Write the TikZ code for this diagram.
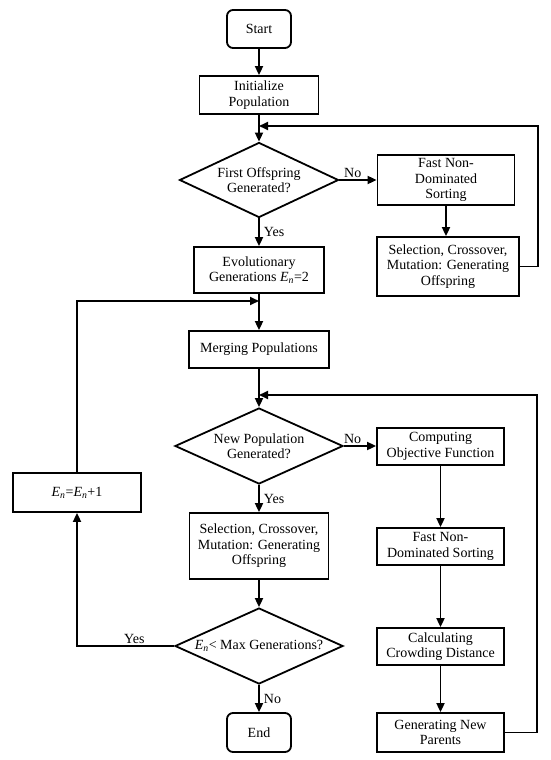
\documentclass[tikz,border=0pt]{standalone}
\usepackage{fontspec}
\setmainfont{Liberation Serif}
\usetikzlibrary{shapes.geometric,arrows.meta,calc}
\newcommand{\En}{\textit{E}\textsubscript{\textit{n}}}
\tikzset{
  every node/.style={font=\fontsize{14}{15.5}\selectfont},
  box/.style={draw, line width=1.8pt, inner sep=0pt, align=center},
  term/.style={box, rounded corners=6pt},
  dec/.style={draw, line width=1.8pt, diamond, inner sep=0pt, aspect=2, align=center},
  arr/.style={line width=1.8pt, -{Triangle[length=9pt,width=8pt]}},
  lbl/.style={inner sep=1pt}
}
\begin{document}
\begin{tikzpicture}[x=1pt,y=-1pt]
\useasboundingbox (0,0) rectangle (550,760);
% nodes
\node[term, minimum width=64pt, minimum height=38pt] (start) at (259,29) {Start};
\node[box, minimum width=119pt, minimum height=38pt] (init) at (259,95) {Initialize\\Population};
\node[dec, minimum width=159pt, minimum height=75pt] (d1) at (259,180) {First Offspring\\Generated?};
\node[box, minimum width=137pt, minimum height=50pt] (fns1) at (446,180) {Fast Non-\\Dominated\\Sorting};
\node[box, minimum width=142pt, minimum height=59pt] (sel1) at (448,266.5) {Selection, Crossover,\\Mutation: Generating\\Offspring};
\node[box, minimum width=130pt, minimum height=46pt] (evo) at (259,270) {Evolutionary\\Generations \En=2};
\node[box, minimum width=140pt, minimum height=37pt] (merge) at (259,349.5) {Merging Populations};
\node[dec, minimum width=168pt, minimum height=76pt] (d2) at (259,446) {New Population\\Generated?};
\node[box, minimum width=127pt, minimum height=37pt] (comp) at (440.5,446.5) {Computing\\Objective Function};
\node[box, minimum width=127pt, minimum height=37pt] (fns2) at (440.5,546.5) {Fast Non-\\Dominated Sorting};
\node[box, minimum width=127pt, minimum height=37pt] (calc) at (440.5,646.5) {Calculating\\Crowding Distance};
\node[box, minimum width=127pt, minimum height=39pt] (gnp) at (440.5,732.5) {Generating New\\Parents};
\node[box, minimum width=139pt, minimum height=66pt] (sel2) at (259,546) {Selection, Crossover,\\Mutation: Generating\\Offspring};
\node[dec, minimum width=168pt, minimum height=76pt] (d3) at (259,646) {\En{}< Max Generations?};
\node[box, minimum width=128pt, minimum height=39pt] (en) at (77,492.5) {\En=\En+1};
\node[term, minimum width=64pt, minimum height=39pt] (end) at (259,732.5) {End};
% junction coordinates
\coordinate (j1) at (259,126);
\coordinate (j2) at (259,301);
\coordinate (j3) at (259,395);
\coordinate (r1) at (538,126);
\coordinate (r2) at (537,395);
\coordinate (l1) at (77,301);
\coordinate (l2) at (77,646);
% connectors
\draw[arr] (start) -- (init);
\draw[arr] (init) -- (d1);
\draw[arr] (d1.east) -- node[lbl, above, pos=0.36] {No} (fns1.west |- d1.east);
\draw[arr] (fns1.south) -- (fns1.south |- sel1.north);
\draw[arr] (sel1.east) -- (sel1.east -| r1) -- (r1) -- (j1);
\draw[arr] (d1.south) -- node[lbl, right, xshift=3pt] {Yes} (evo.north);
\draw[arr] (evo) -- (merge);
\draw[arr] (en.north) -- (l1) -- (j2);
\draw[arr] (merge) -- (d2);
\draw[arr] (gnp.east) -- (gnp.east -| r2) -- (r2) -- (j3);
\draw[arr] (d2.east) -- node[lbl, above, pos=0.27] {No} (comp.west |- d2.east);
\draw[arr] (comp) -- (fns2);
\draw[arr] (fns2) -- (calc);
\draw[arr] (calc) -- (gnp);
\draw[arr] (d2.south) -- node[lbl, right, xshift=3pt] {Yes} (sel2.north);
\draw[arr] (sel2) -- (d3);
\draw[arr] (d3.west) -- node[lbl, above, pos=0.41] {Yes} (l2) -- (en.south);
\draw[arr] (d3.south) -- node[lbl, right, xshift=3pt] {No} (end.north);
\end{tikzpicture}
\end{document}
